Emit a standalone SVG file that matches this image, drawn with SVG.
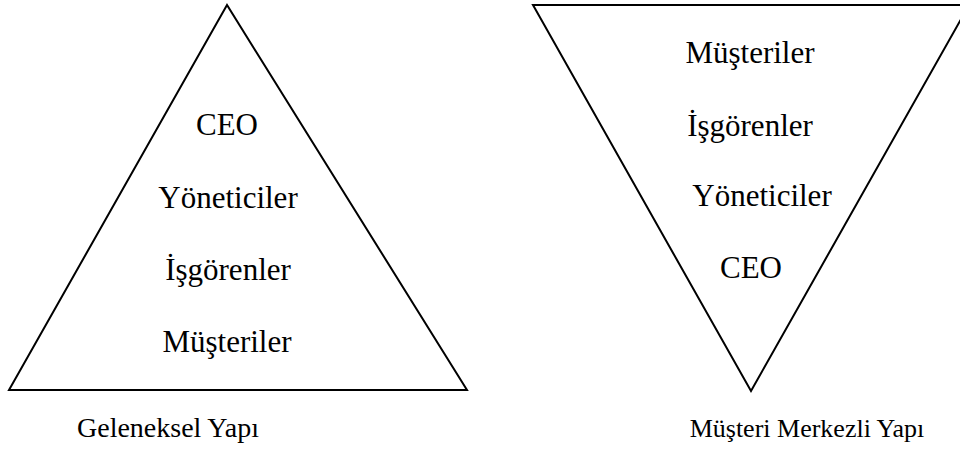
<svg xmlns="http://www.w3.org/2000/svg" width="960" height="450" viewBox="0 0 960 450">
<style>
.tri{fill:none;stroke:#000;stroke-width:2;stroke-linejoin:miter}
text{font-family:'Liberation Serif','Times New Roman',serif;fill:#000;text-anchor:middle}
.t{font-size:31px}
.c1{font-size:28px}
.c2{font-size:26px}
</style>
<rect width="960" height="450" fill="#fff"/>
<g id="geleneksel">
<polygon class="tri" points="227,5 9,390 467,390"/>
<text class="t" x="227" y="135">CEO</text>
<text class="t" x="228" y="208">Yöneticiler</text>
<text class="t" x="228" y="280">İşgörenler</text>
<text class="t" x="227" y="352">Müşteriler</text>
<text class="c1" x="168" y="437">Geleneksel Yapı</text>
</g>
<g id="musteri">
<polygon class="tri" points="533,5 969,5 751,391"/>
<text class="t" x="750" y="63">Müşteriler</text>
<text class="t" x="750" y="136">İşgörenler</text>
<text class="t" x="762" y="206">Yöneticiler</text>
<text class="t" x="751" y="278">CEO</text>
<text class="c2" x="807" y="437">Müşteri Merkezli Yapı</text>
</g>
</svg>
